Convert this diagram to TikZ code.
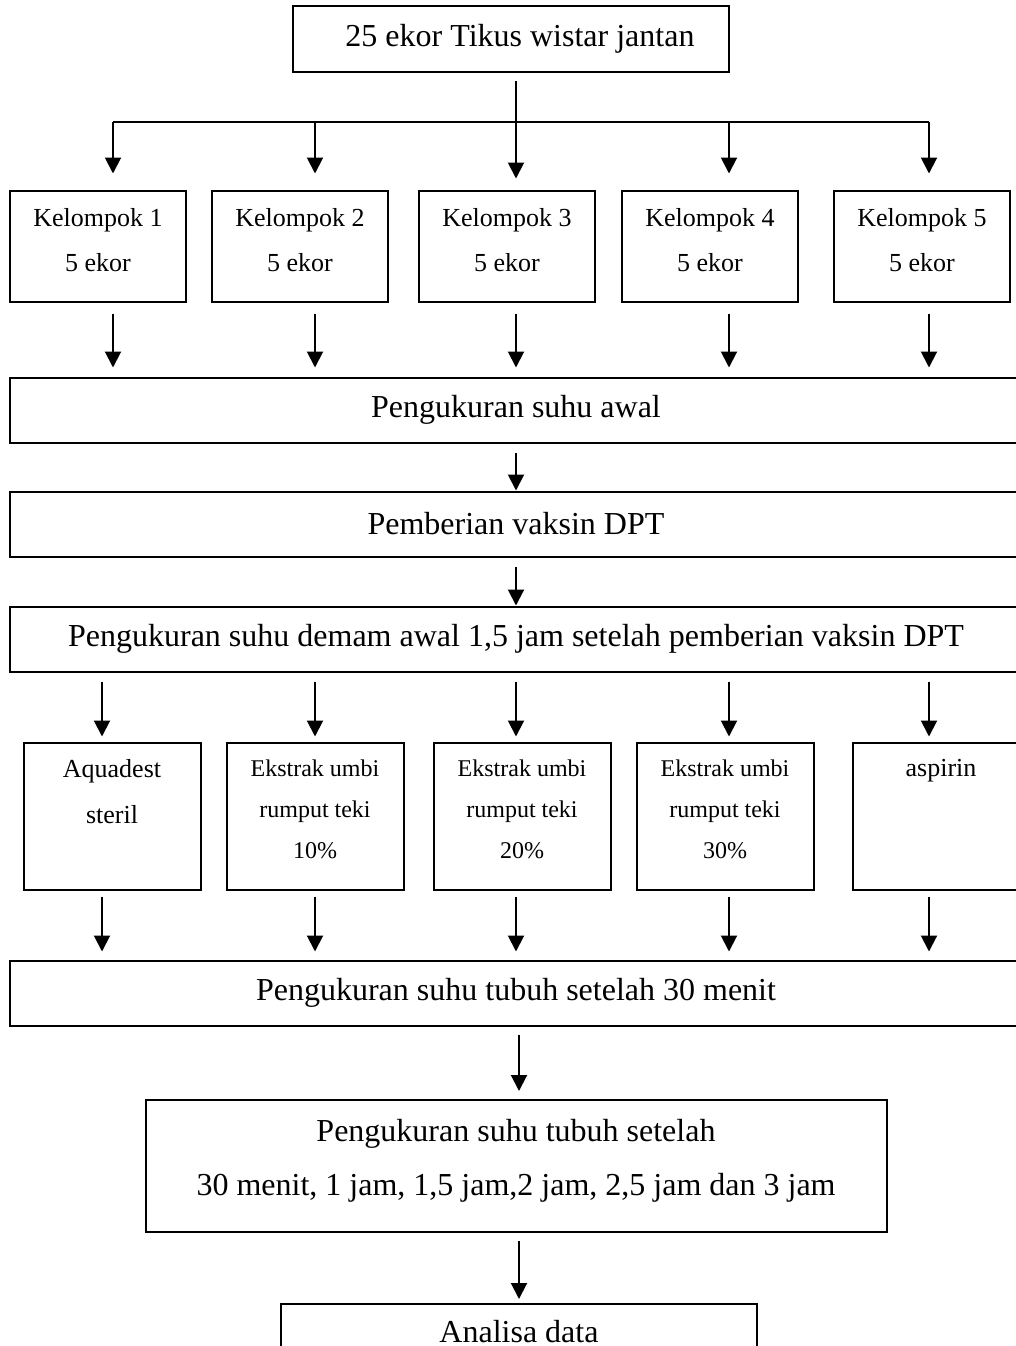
\documentclass[tikz,border=0pt]{standalone}
\usepackage{fontspec}
\setmainfont{Liberation Serif}
\usetikzlibrary{arrows.meta}
\tikzset{
  box/.style={draw, line width=2pt, inner sep=0pt, align=center},
  wide/.style={box, minimum width=1012pt, minimum height=65pt, font=\fontsize{32}{38}\selectfont},
  group/.style={box, minimum width=176pt, minimum height=111pt},
  treat/.style={box, minimum width=177pt, minimum height=147pt},
  inlbl/.style={anchor=north, align=center, inner sep=0pt, yshift=-18pt},
  line/.style={line width=2pt},
  arr/.style={line, -{Triangle[width=16pt,length=16pt]}},
}
\begin{document}
\begin{tikzpicture}[x=1pt,y=-1pt]
\clip (0,0) rectangle (1016,1346);
\useasboundingbox (0,0) rectangle (1016,1346);
% arrow columns
\foreach \i/\x in {1/113,2/315,3/516,4/729,5/929}
  \coordinate (a\i) at (\x,0);
\foreach \i/\x in {1/102,2/315,3/516,4/729,5/929}
  \coordinate (b\i) at (\x,0);
\coordinate (mid) at (519,0);
\coordinate (bus) at (0,122);

\node[box, minimum width=436pt, minimum height=66pt,
  label={[font=\fontsize{32}{38}\selectfont, xshift=9pt]center:25 ekor Tikus wistar jantan}] (tikus) at (511,39) {};

\foreach \i/\x in {1/98,2/300,3/507,4/710,5/922}
  \node[group, label={[inlbl, yshift=-1pt, font=\fontsize{26}{45}\selectfont]north:{Kelompok \i\\5 ekor}}] (k\i) at (\x,246) {};

\node[wide] (awal) at (516,410) {Pengukuran suhu awal};
\node[wide] (vaksin) at (516,524) {Pemberian vaksin DPT};
\node[wide] (demam) at (516,639) {Pengukuran suhu demam awal 1,5 jam setelah pemberian vaksin DPT};

\node[treat, label={[inlbl, font=\fontsize{26}{46}\selectfont]north:{Aquadest\\steril}}] (p1) at (112,816) {};
\node[treat, label={[inlbl, font=\fontsize{24}{41}\selectfont]north:{Ekstrak umbi\\rumput teki\\10\%}}] (p2) at (315,816) {};
\node[treat, label={[inlbl, font=\fontsize{24}{41}\selectfont]north:{Ekstrak umbi\\rumput teki\\20\%}}] (p3) at (522,816) {};
\node[treat, label={[inlbl, font=\fontsize{24}{41}\selectfont]north:{Ekstrak umbi\\rumput teki\\30\%}}] (p4) at (725,816) {};
\node[treat, label={[inlbl, font=\fontsize{26}{46}\selectfont]north:{aspirin}}] (p5) at (941,816) {};

\node[wide] (tubuh) at (516,993) {Pengukuran suhu tubuh setelah 30 menit};
\node[box, minimum width=741pt, minimum height=132pt,
  label={[inlbl, yshift=-2pt, font=\fontsize{32}{54}\selectfont]north:{Pengukuran suhu tubuh setelah\\30 menit, 1 jam, 1,5 jam,2 jam, 2,5 jam dan 3 jam}}] (jam) at (516,1166) {};
\node[box, minimum width=476pt, minimum height=56pt, font=\fontsize{32}{38}\selectfont] (analisa) at (519,1332) {Analisa data};

% connectors
\draw[line] (a1 |- bus) -- (a5 |- bus);
\draw[arr] ([yshift=-8pt]tikus.south -| a3) -- ([yshift=11pt]k3.north -| a3);
\foreach \i in {1,2,4,5}
  \draw[arr] (a\i |- bus) -- ([yshift=16pt]k\i.north -| a\i);
\foreach \i in {1,...,5}
  \draw[arr] ([yshift=-11pt]k\i.south -| a\i) -- ([yshift=9pt]awal.north -| a\i);
\draw[arr] ([yshift=-9pt]awal.south -| a3) -- (vaksin.north -| a3);
\draw[arr] ([yshift=-9pt]vaksin.south -| a3) -- (demam.north -| a3);
\foreach \i in {1,...,5}{
  \draw[arr] ([yshift=-9pt]demam.south -| b\i) -- ([yshift=5pt]p\i.north -| b\i);
  \draw[arr] ([yshift=-6pt]p\i.south -| b\i) -- ([yshift=8pt]tubuh.north -| b\i);
}
\draw[arr] ([yshift=-8pt]tubuh.south -| mid) -- ([yshift=8pt]jam.north -| mid);
\draw[arr] ([yshift=-8pt]jam.south -| mid) -- ([yshift=4pt]analisa.north -| mid);
\end{tikzpicture}
\end{document}
